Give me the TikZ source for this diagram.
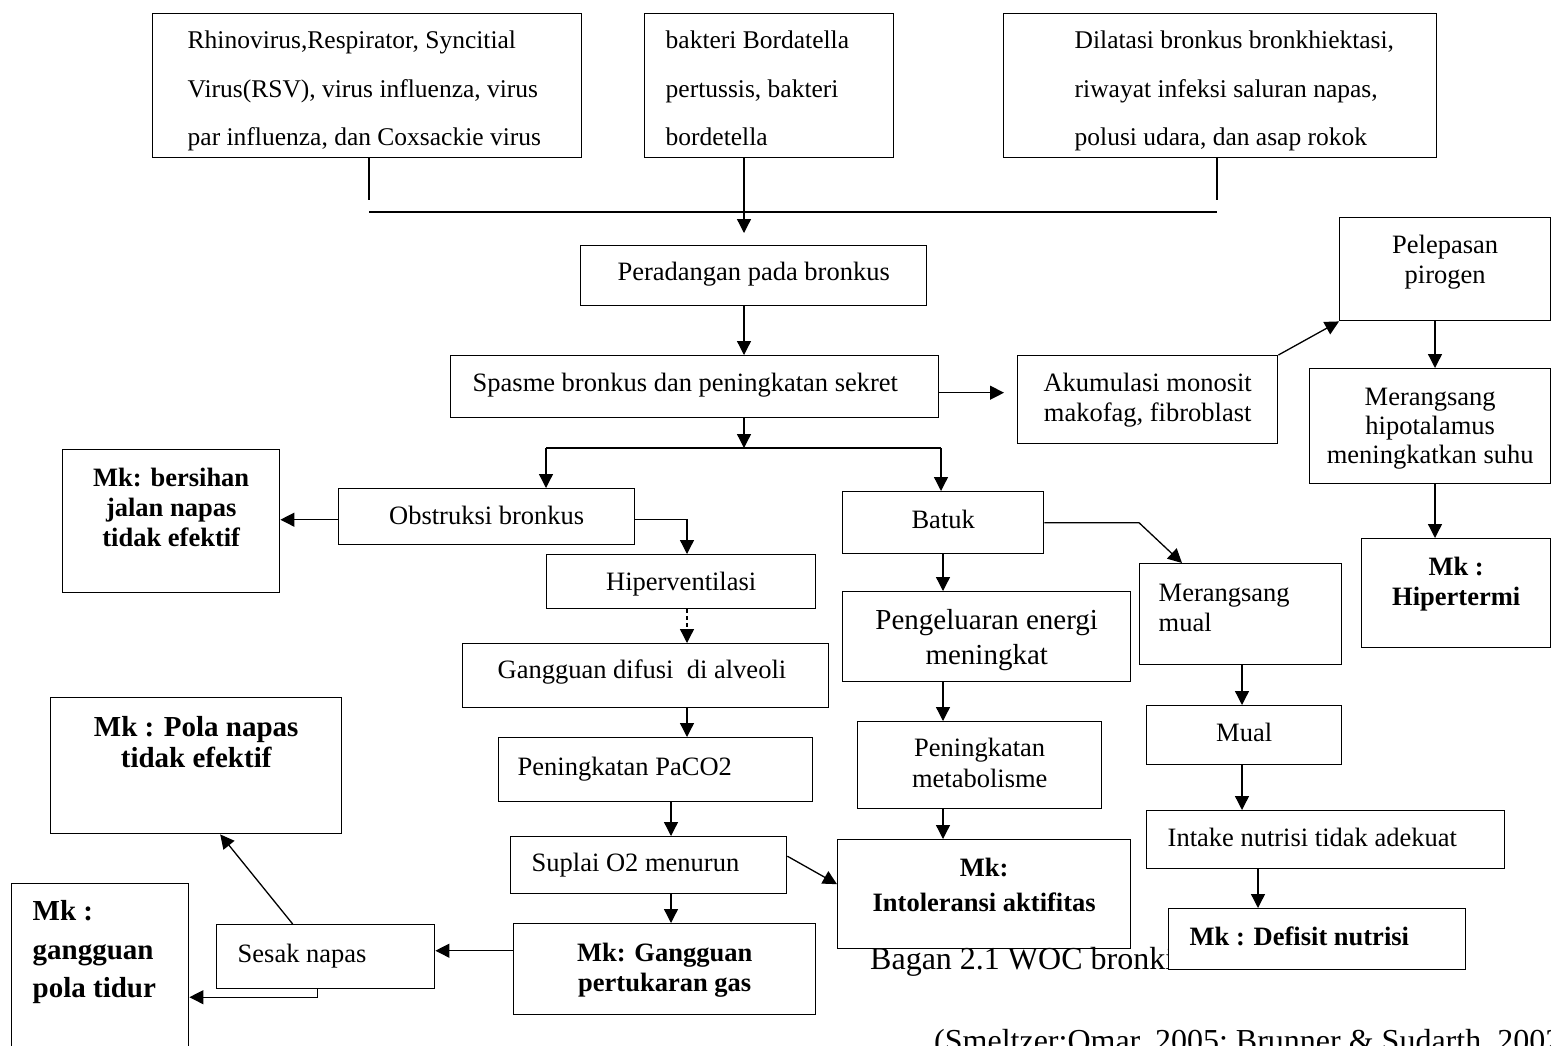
\documentclass[tikz,border=0pt]{standalone}
\usepackage{fontspec}
\setmainfont{Liberation Serif}
\usepackage{tikz}
\usetikzlibrary{arrows.meta}

\begin{document}
\begin{tikzpicture}[x=1pt, y=-1pt, >={Triangle[length=14pt,width=14pt]},
  box/.style={draw, line width=1.4pt, fill=white, anchor=north west, inner sep=0pt,
    align=flush center, font=\fontsize{26.5}{30}\selectfont},
  topbox/.style={box, font=\fontsize{25.5}{48.5}\selectfont},
  mk/.style={box, font=\bfseries\fontsize{26.5}{30}\selectfont},
  lpad/.style={align=flush left, execute at begin node={\leftskip=#1\relax}},
  dims/.style n args={3}{text width=#1, text height=#2, text depth=#3},
  arr/.style={->, line width=1.3pt},
  ln/.style={line width=1.3pt}]
  \useasboundingbox (0,0) rectangle (1551,1045);
  \clip (0,0) rectangle (1551,1045);

  \node[topbox, lpad=35pt, dims={429pt}{35pt}{109pt}] (vir) at (152,13)
    {Rhinovirus,Respirator, Syncitial\\Virus(RSV), virus influenza, virus\\par influenza, dan Coxsackie virus};
  \node[topbox, lpad=21pt, dims={249pt}{35pt}{109pt}] (bak) at (644,13)
    {bakteri Bordatella\\pertussis, bakteri\\bordetella};
  \node[topbox, lpad=71pt, dims={433pt}{35pt}{109pt}] (dil) at (1003,13)
    {Dilatasi bronkus bronkhiektasi,\\riwayat infeksi saluran napas,\\polusi udara, dan asap rokok};

  \node[box, dims={346pt}{35pt}{25pt}] (per) at (580,245) {Peradangan pada bronkus};
  \node[box, lpad=22pt, dims={488pt}{36pt}{26pt}] (spa) at (450,355) {Spasme bronkus dan peningkatan sekret};
  \node[box, dims={260pt}{36pt}{52pt}] (aku) at (1017,355) {Akumulasi monosit\\makofag, fibroblast};
  \node[box, dims={211pt}{36pt}{67pt}] (pel) at (1339,217) {Pelepasan\\pirogen};
  \node[box, font=\fontsize{26.5}{29}\selectfont, dims={241pt}{37pt}{78pt}] (hip) at (1309,368)
    {Merangsang\\hipotalamus\\meningkatkan suhu};
  \node[mk, dims={189pt}{37pt}{72pt}] (hpt) at (1361,538) {Mk :\\Hipertermi};

  \node[mk, dims={217pt}{37pt}{106pt}] (ber) at (62,449) {Mk: bersihan\\jalan napas\\tidak efektif};
  \node[box, dims={296pt}{36pt}{20pt}] (obs) at (338,488) {Obstruksi bronkus};
  \node[box, dims={269pt}{36pt}{18pt}] (hpv) at (546,554) {Hiperventilasi};
  \node[box, lpad=35pt, dims={366pt}{35pt}{29pt}] (dif) at (462,643) {Gangguan difusi~ di alveoli};
  \node[box, lpad=19pt, dims={314pt}{38pt}{26pt}] (pac) at (498,737) {Peningkatan PaCO2};
  \node[box, lpad=21pt, dims={276pt}{35pt}{22pt}] (sup) at (510,836) {Suplai O2 menurun};
  \node[mk, dims={302pt}{38pt}{53pt}] (gpg) at (513,923) {Mk: Gangguan\\pertukaran gas};
  \node[box, lpad=21pt, dims={218pt}{38pt}{26pt}] (ses) at (216,924) {Sesak napas};
  \node[mk, font=\bfseries\fontsize{29}{31}\selectfont, dims={291pt}{39pt}{97pt}] (pnp) at (50,697)
    {Mk : Pola napas\\tidak efektif};
  \node[mk, font=\bfseries\fontsize{29}{38.5}\selectfont, lpad=21pt, dims={177pt}{37pt}{190pt}] (gpt) at (11,883)
    {Mk :\\gangguan\\pola tidur};

  \node[box, dims={201pt}{37pt}{25pt}] (bat) at (842,491) {Batuk};
  \node[box, lpad=19pt, dims={202pt}{38pt}{63pt}] (mua) at (1139,563) {Merangsang\\mual};
  \node[box, font=\fontsize{29}{35}\selectfont, dims={288pt}{38pt}{52pt}] (pen) at (842,591)
    {Pengeluaran energi\\meningkat};
  \node[box, font=\fontsize{26.5}{31}\selectfont, dims={244pt}{35pt}{52pt}] (met) at (857,721)
    {Peningkatan\\metabolisme};
  \node[mk, font=\bfseries\fontsize{26.5}{35}\selectfont, dims={293pt}{37pt}{72pt}] (int) at (837,839)
    {Mk:\\Intoleransi aktifitas};
  \node[box, dims={195pt}{36pt}{23pt}] (mul) at (1146,705) {Mual};
  \node[box, lpad=21pt, dims={358pt}{36pt}{22pt}] (itk) at (1146,810) {Intake nutrisi tidak adekuat};

  \node[anchor=base west, inner sep=0pt, font=\fontsize{32}{38}\selectfont] (cap) at (870,969)
    {Bagan 2.1 WOC bronkitis};
  \node[anchor=base west, inner sep=0pt, font=\fontsize{32}{38}\selectfont] (src) at (934,1051)
    {(Smeltzer;Omar, 2005; Brunner \& Sudarth, 2002)};
  \node[mk, lpad=21pt, dims={297pt}{37pt}{24pt}] (def) at (1168,908) {Mk : Defisit nutrisi};

  \coordinate (stubL) at (369,200);
  \coordinate (stubR) at (1217,200);
  \coordinate (joinL) at (369,212);
  \coordinate (joinR) at (1217,212);
  \coordinate (spine) at (744,0);
  \coordinate (fork) at (744,448);
  \coordinate (forkL) at (546,448);
  \coordinate (forkR) at (941,448);
  \coordinate (pcol) at (1435,0);
  \coordinate (hcol) at (687,0);
  \coordinate (ocol) at (671,0);
  \coordinate (bcol) at (943,0);
  \coordinate (mcol) at (1242,0);
  \coordinate (ncol) at (1258,0);

  \draw[ln] (vir.south -| stubL) -- (stubL);
  \draw[ln] (dil.south -| stubR) -- (stubR);
  \draw[ln] (joinL) -- (joinR);
  \draw[arr, shorten >=12pt] (bak.south -| spine) -- (per.north -| spine);
  \draw[arr] (per.south -| spine) -- (spa.north -| spine);
  \draw[arr, shorten >=13pt] ([yshift=-6pt]spa.east) -- ([yshift=-6pt]spa.east -| aku.west);
  \draw[arr] (aku.north east) -- (pel.south west);
  \draw[arr] (pel.south -| pcol) -- (hip.north -| pcol);
  \draw[arr] (hip.south -| pcol) -- (hpt.north -| pcol);

  \draw[arr] (spa.south -| spine) -- (fork);
  \draw[ln] (forkL) -- (forkR);
  \draw[arr] (forkL) -- (forkL |- obs.north);
  \draw[arr] (forkR) -- (forkR |- bat.north);

  \draw[arr] ([yshift=-3pt]obs.west) -- ([yshift=-3pt]obs.west -| ber.east);
  \draw[arr] ([yshift=-3pt]obs.east) -| (hcol |- hpv.north);
  \draw[arr, dash pattern=on 4pt off 3pt] (hcol |- hpv.south) -- (hcol |- dif.north);
  \draw[arr] (hcol |- dif.south) -- (hcol |- pac.north);
  \draw[arr] (ocol |- pac.south) -- (ocol |- sup.north);
  \draw[arr] (ocol |- sup.south) -- (ocol |- gpg.north);
  \draw[arr] ([yshift=9pt]sup.east) -- ([yshift=10pt]int.west);
  \draw[arr] ([yshift=6pt]ses.east -| gpg.west) -- ([yshift=6pt]ses.east);
  \draw[arr] ([xshift=-33pt]ses.north) -- ([xshift=24pt]pnp.south);
  \draw[arr] ([xshift=-8pt]ses.south) |- (gpt.east);

  \draw[arr] (bcol |- bat.south) -- (bcol |- pen.north);
  \draw[arr] (bcol |- pen.south) -- (bcol |- met.north);
  \draw[arr] (bcol |- met.south) -- (bcol |- int.north);
  \draw[arr] (bat.east) -- (bat.east -| mua.west) -- ([xshift=43pt]mua.north west);
  \draw[arr] (mcol |- mua.south) -- (mcol |- mul.north);
  \draw[arr] (mcol |- mul.south) -- (mcol |- itk.north);
  \draw[arr] (ncol |- itk.south) -- (ncol |- def.north);
\end{tikzpicture}
\end{document}
